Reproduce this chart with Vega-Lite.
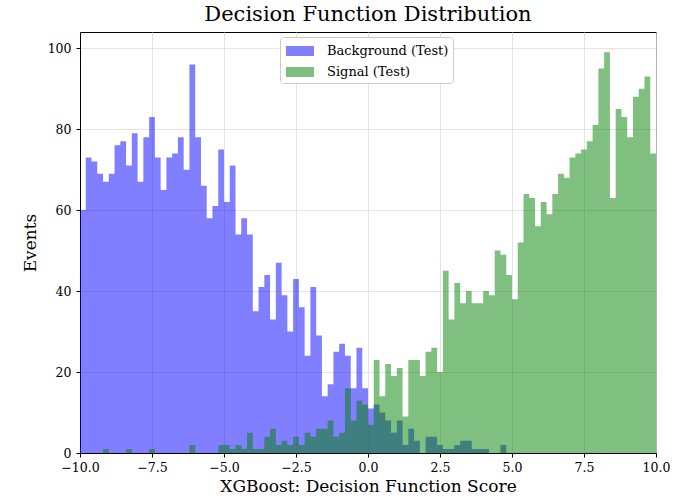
{
  "$schema": "https://vega.github.io/schema/vega-lite/v6.json",
  "width": 576,
  "height": 421,
  "autosize": "none",
  "padding": {"left": 80, "top": 32, "right": 29, "bottom": 50},
  "background": "white",
  "title": {"text": "Decision Function Distribution", "fontSize": 21, "font": "DejaVu Serif", "fontWeight": "normal", "color": "black", "offset": 7},
  "config": {
    "view": {"stroke": "black", "strokeWidth": 1},
    "font": "DejaVu Serif",
    "axis": {
      "domainColor": "black", "tickColor": "black", "tickSize": 4, "labelColor": "black", "titleColor": "black",
      "labelFont": "DejaVu Serif", "titleFont": "DejaVu Serif", "labelFontSize": 12.5, "titleFontSize": 17, "titleFontWeight": "normal",
      "grid": true, "gridColor": "#dddddd", "gridOpacity": 0.8, "labelFlush": false
    }
  },
  "data": {"values": [
    {"series": "Background (Test)", "score_lo": -10, "score_hi": -9.8, "events": 60},
    {"series": "Background (Test)", "score_lo": -9.8, "score_hi": -9.6, "events": 73},
    {"series": "Background (Test)", "score_lo": -9.6, "score_hi": -9.4, "events": 72},
    {"series": "Background (Test)", "score_lo": -9.4, "score_hi": -9.2, "events": 69},
    {"series": "Background (Test)", "score_lo": -9.2, "score_hi": -9, "events": 67},
    {"series": "Background (Test)", "score_lo": -9, "score_hi": -8.8, "events": 69},
    {"series": "Background (Test)", "score_lo": -8.8, "score_hi": -8.6, "events": 76},
    {"series": "Background (Test)", "score_lo": -8.6, "score_hi": -8.4, "events": 77},
    {"series": "Background (Test)", "score_lo": -8.4, "score_hi": -8.2, "events": 71},
    {"series": "Background (Test)", "score_lo": -8.2, "score_hi": -8, "events": 79},
    {"series": "Background (Test)", "score_lo": -8, "score_hi": -7.8, "events": 67},
    {"series": "Background (Test)", "score_lo": -7.8, "score_hi": -7.6, "events": 78},
    {"series": "Background (Test)", "score_lo": -7.6, "score_hi": -7.4, "events": 83},
    {"series": "Background (Test)", "score_lo": -7.4, "score_hi": -7.2, "events": 73},
    {"series": "Background (Test)", "score_lo": -7.2, "score_hi": -7, "events": 65},
    {"series": "Background (Test)", "score_lo": -7, "score_hi": -6.8, "events": 73},
    {"series": "Background (Test)", "score_lo": -6.8, "score_hi": -6.6, "events": 74},
    {"series": "Background (Test)", "score_lo": -6.6, "score_hi": -6.4, "events": 78},
    {"series": "Background (Test)", "score_lo": -6.4, "score_hi": -6.2, "events": 70},
    {"series": "Background (Test)", "score_lo": -6.2, "score_hi": -6, "events": 96},
    {"series": "Background (Test)", "score_lo": -6, "score_hi": -5.8, "events": 78},
    {"series": "Background (Test)", "score_lo": -5.8, "score_hi": -5.6, "events": 66},
    {"series": "Background (Test)", "score_lo": -5.6, "score_hi": -5.4, "events": 58},
    {"series": "Background (Test)", "score_lo": -5.4, "score_hi": -5.2, "events": 61},
    {"series": "Background (Test)", "score_lo": -5.2, "score_hi": -5, "events": 75},
    {"series": "Background (Test)", "score_lo": -5, "score_hi": -4.8, "events": 62},
    {"series": "Background (Test)", "score_lo": -4.8, "score_hi": -4.6, "events": 71},
    {"series": "Background (Test)", "score_lo": -4.6, "score_hi": -4.4, "events": 54},
    {"series": "Background (Test)", "score_lo": -4.4, "score_hi": -4.2, "events": 58},
    {"series": "Background (Test)", "score_lo": -4.2, "score_hi": -4, "events": 54},
    {"series": "Background (Test)", "score_lo": -4, "score_hi": -3.8, "events": 35},
    {"series": "Background (Test)", "score_lo": -3.8, "score_hi": -3.6, "events": 41},
    {"series": "Background (Test)", "score_lo": -3.6, "score_hi": -3.4, "events": 44},
    {"series": "Background (Test)", "score_lo": -3.4, "score_hi": -3.2, "events": 33},
    {"series": "Background (Test)", "score_lo": -3.2, "score_hi": -3, "events": 47},
    {"series": "Background (Test)", "score_lo": -3, "score_hi": -2.8, "events": 39},
    {"series": "Background (Test)", "score_lo": -2.8, "score_hi": -2.6, "events": 30},
    {"series": "Background (Test)", "score_lo": -2.6, "score_hi": -2.4, "events": 43},
    {"series": "Background (Test)", "score_lo": -2.4, "score_hi": -2.2, "events": 36},
    {"series": "Background (Test)", "score_lo": -2.2, "score_hi": -2, "events": 24},
    {"series": "Background (Test)", "score_lo": -2, "score_hi": -1.8, "events": 41},
    {"series": "Background (Test)", "score_lo": -1.8, "score_hi": -1.6, "events": 29},
    {"series": "Background (Test)", "score_lo": -1.6, "score_hi": -1.4, "events": 14},
    {"series": "Background (Test)", "score_lo": -1.4, "score_hi": -1.2, "events": 17},
    {"series": "Background (Test)", "score_lo": -1.2, "score_hi": -1, "events": 25},
    {"series": "Background (Test)", "score_lo": -1, "score_hi": -0.8, "events": 27},
    {"series": "Background (Test)", "score_lo": -0.8, "score_hi": -0.6, "events": 24},
    {"series": "Background (Test)", "score_lo": -0.6, "score_hi": -0.4, "events": 16},
    {"series": "Background (Test)", "score_lo": -0.4, "score_hi": -0.2, "events": 26},
    {"series": "Background (Test)", "score_lo": -0.2, "score_hi": 0, "events": 16},
    {"series": "Background (Test)", "score_lo": 0, "score_hi": 0.2, "events": 11},
    {"series": "Background (Test)", "score_lo": 0.2, "score_hi": 0.4, "events": 12},
    {"series": "Background (Test)", "score_lo": 0.4, "score_hi": 0.6, "events": 10},
    {"series": "Background (Test)", "score_lo": 0.6, "score_hi": 0.8, "events": 8},
    {"series": "Background (Test)", "score_lo": 0.8, "score_hi": 1, "events": 5},
    {"series": "Background (Test)", "score_lo": 1, "score_hi": 1.2, "events": 8},
    {"series": "Background (Test)", "score_lo": 1.2, "score_hi": 1.4, "events": 2},
    {"series": "Background (Test)", "score_lo": 1.4, "score_hi": 1.6, "events": 6},
    {"series": "Background (Test)", "score_lo": 1.6, "score_hi": 1.8, "events": 3},
    {"series": "Background (Test)", "score_lo": 1.8, "score_hi": 2, "events": 0},
    {"series": "Background (Test)", "score_lo": 2, "score_hi": 2.2, "events": 4},
    {"series": "Background (Test)", "score_lo": 2.2, "score_hi": 2.4, "events": 4},
    {"series": "Background (Test)", "score_lo": 2.4, "score_hi": 2.6, "events": 2},
    {"series": "Background (Test)", "score_lo": 2.6, "score_hi": 2.8, "events": 1},
    {"series": "Background (Test)", "score_lo": 2.8, "score_hi": 3, "events": 1},
    {"series": "Background (Test)", "score_lo": 3, "score_hi": 3.2, "events": 2},
    {"series": "Background (Test)", "score_lo": 3.2, "score_hi": 3.4, "events": 3},
    {"series": "Background (Test)", "score_lo": 3.4, "score_hi": 3.6, "events": 3},
    {"series": "Background (Test)", "score_lo": 3.6, "score_hi": 3.8, "events": 1},
    {"series": "Background (Test)", "score_lo": 3.8, "score_hi": 4, "events": 1},
    {"series": "Background (Test)", "score_lo": 4, "score_hi": 4.2, "events": 1},
    {"series": "Background (Test)", "score_lo": 4.2, "score_hi": 4.4, "events": 0},
    {"series": "Background (Test)", "score_lo": 4.4, "score_hi": 4.6, "events": 0},
    {"series": "Background (Test)", "score_lo": 4.6, "score_hi": 4.8, "events": 2},
    {"series": "Signal (Test)", "score_lo": -10, "score_hi": -9.8, "events": 0},
    {"series": "Signal (Test)", "score_lo": -9.8, "score_hi": -9.6, "events": 0},
    {"series": "Signal (Test)", "score_lo": -9.6, "score_hi": -9.4, "events": 0},
    {"series": "Signal (Test)", "score_lo": -9.4, "score_hi": -9.2, "events": 0},
    {"series": "Signal (Test)", "score_lo": -9.2, "score_hi": -9, "events": 1},
    {"series": "Signal (Test)", "score_lo": -9, "score_hi": -8.8, "events": 0},
    {"series": "Signal (Test)", "score_lo": -8.8, "score_hi": -8.6, "events": 0},
    {"series": "Signal (Test)", "score_lo": -8.6, "score_hi": -8.4, "events": 0},
    {"series": "Signal (Test)", "score_lo": -8.4, "score_hi": -8.2, "events": 1},
    {"series": "Signal (Test)", "score_lo": -8.2, "score_hi": -8, "events": 0},
    {"series": "Signal (Test)", "score_lo": -8, "score_hi": -7.8, "events": 0},
    {"series": "Signal (Test)", "score_lo": -7.8, "score_hi": -7.6, "events": 0},
    {"series": "Signal (Test)", "score_lo": -7.6, "score_hi": -7.4, "events": 1},
    {"series": "Signal (Test)", "score_lo": -7.4, "score_hi": -7.2, "events": 0},
    {"series": "Signal (Test)", "score_lo": -7.2, "score_hi": -7, "events": 0},
    {"series": "Signal (Test)", "score_lo": -7, "score_hi": -6.8, "events": 0},
    {"series": "Signal (Test)", "score_lo": -6.8, "score_hi": -6.6, "events": 0},
    {"series": "Signal (Test)", "score_lo": -6.6, "score_hi": -6.4, "events": 0},
    {"series": "Signal (Test)", "score_lo": -6.4, "score_hi": -6.2, "events": 0},
    {"series": "Signal (Test)", "score_lo": -6.2, "score_hi": -6, "events": 2},
    {"series": "Signal (Test)", "score_lo": -6, "score_hi": -5.8, "events": 0},
    {"series": "Signal (Test)", "score_lo": -5.8, "score_hi": -5.6, "events": 0},
    {"series": "Signal (Test)", "score_lo": -5.6, "score_hi": -5.4, "events": 0},
    {"series": "Signal (Test)", "score_lo": -5.4, "score_hi": -5.2, "events": 0},
    {"series": "Signal (Test)", "score_lo": -5.2, "score_hi": -5, "events": 2},
    {"series": "Signal (Test)", "score_lo": -5, "score_hi": -4.8, "events": 2},
    {"series": "Signal (Test)", "score_lo": -4.8, "score_hi": -4.6, "events": 1},
    {"series": "Signal (Test)", "score_lo": -4.6, "score_hi": -4.4, "events": 2},
    {"series": "Signal (Test)", "score_lo": -4.4, "score_hi": -4.2, "events": 1},
    {"series": "Signal (Test)", "score_lo": -4.2, "score_hi": -4, "events": 5},
    {"series": "Signal (Test)", "score_lo": -4, "score_hi": -3.8, "events": 1},
    {"series": "Signal (Test)", "score_lo": -3.8, "score_hi": -3.6, "events": 1},
    {"series": "Signal (Test)", "score_lo": -3.6, "score_hi": -3.4, "events": 4},
    {"series": "Signal (Test)", "score_lo": -3.4, "score_hi": -3.2, "events": 6},
    {"series": "Signal (Test)", "score_lo": -3.2, "score_hi": -3, "events": 2},
    {"series": "Signal (Test)", "score_lo": -3, "score_hi": -2.8, "events": 3},
    {"series": "Signal (Test)", "score_lo": -2.8, "score_hi": -2.6, "events": 2},
    {"series": "Signal (Test)", "score_lo": -2.6, "score_hi": -2.4, "events": 4},
    {"series": "Signal (Test)", "score_lo": -2.4, "score_hi": -2.2, "events": 2},
    {"series": "Signal (Test)", "score_lo": -2.2, "score_hi": -2, "events": 5},
    {"series": "Signal (Test)", "score_lo": -2, "score_hi": -1.8, "events": 4},
    {"series": "Signal (Test)", "score_lo": -1.8, "score_hi": -1.6, "events": 6},
    {"series": "Signal (Test)", "score_lo": -1.6, "score_hi": -1.4, "events": 6},
    {"series": "Signal (Test)", "score_lo": -1.4, "score_hi": -1.2, "events": 8},
    {"series": "Signal (Test)", "score_lo": -1.2, "score_hi": -1, "events": 4},
    {"series": "Signal (Test)", "score_lo": -1, "score_hi": -0.8, "events": 5},
    {"series": "Signal (Test)", "score_lo": -0.8, "score_hi": -0.6, "events": 16},
    {"series": "Signal (Test)", "score_lo": -0.6, "score_hi": -0.4, "events": 8},
    {"series": "Signal (Test)", "score_lo": -0.4, "score_hi": -0.2, "events": 13},
    {"series": "Signal (Test)", "score_lo": -0.2, "score_hi": 0, "events": 12},
    {"series": "Signal (Test)", "score_lo": 0, "score_hi": 0.2, "events": 7},
    {"series": "Signal (Test)", "score_lo": 0.2, "score_hi": 0.4, "events": 23},
    {"series": "Signal (Test)", "score_lo": 0.4, "score_hi": 0.6, "events": 14},
    {"series": "Signal (Test)", "score_lo": 0.6, "score_hi": 0.8, "events": 22},
    {"series": "Signal (Test)", "score_lo": 0.8, "score_hi": 1, "events": 19},
    {"series": "Signal (Test)", "score_lo": 1, "score_hi": 1.2, "events": 21},
    {"series": "Signal (Test)", "score_lo": 1.2, "score_hi": 1.4, "events": 9},
    {"series": "Signal (Test)", "score_lo": 1.4, "score_hi": 1.6, "events": 23},
    {"series": "Signal (Test)", "score_lo": 1.6, "score_hi": 1.8, "events": 23},
    {"series": "Signal (Test)", "score_lo": 1.8, "score_hi": 2, "events": 19},
    {"series": "Signal (Test)", "score_lo": 2, "score_hi": 2.2, "events": 25},
    {"series": "Signal (Test)", "score_lo": 2.2, "score_hi": 2.4, "events": 26},
    {"series": "Signal (Test)", "score_lo": 2.4, "score_hi": 2.6, "events": 20},
    {"series": "Signal (Test)", "score_lo": 2.6, "score_hi": 2.8, "events": 45},
    {"series": "Signal (Test)", "score_lo": 2.8, "score_hi": 3, "events": 33},
    {"series": "Signal (Test)", "score_lo": 3, "score_hi": 3.2, "events": 42},
    {"series": "Signal (Test)", "score_lo": 3.2, "score_hi": 3.4, "events": 37},
    {"series": "Signal (Test)", "score_lo": 3.4, "score_hi": 3.6, "events": 40},
    {"series": "Signal (Test)", "score_lo": 3.6, "score_hi": 3.8, "events": 37},
    {"series": "Signal (Test)", "score_lo": 3.8, "score_hi": 4, "events": 37},
    {"series": "Signal (Test)", "score_lo": 4, "score_hi": 4.2, "events": 40},
    {"series": "Signal (Test)", "score_lo": 4.2, "score_hi": 4.4, "events": 39},
    {"series": "Signal (Test)", "score_lo": 4.4, "score_hi": 4.6, "events": 50},
    {"series": "Signal (Test)", "score_lo": 4.6, "score_hi": 4.8, "events": 49},
    {"series": "Signal (Test)", "score_lo": 4.8, "score_hi": 5, "events": 44},
    {"series": "Signal (Test)", "score_lo": 5, "score_hi": 5.2, "events": 38},
    {"series": "Signal (Test)", "score_lo": 5.2, "score_hi": 5.4, "events": 52},
    {"series": "Signal (Test)", "score_lo": 5.4, "score_hi": 5.6, "events": 64},
    {"series": "Signal (Test)", "score_lo": 5.6, "score_hi": 5.8, "events": 63},
    {"series": "Signal (Test)", "score_lo": 5.8, "score_hi": 6, "events": 56},
    {"series": "Signal (Test)", "score_lo": 6, "score_hi": 6.2, "events": 62},
    {"series": "Signal (Test)", "score_lo": 6.2, "score_hi": 6.4, "events": 59},
    {"series": "Signal (Test)", "score_lo": 6.4, "score_hi": 6.6, "events": 64},
    {"series": "Signal (Test)", "score_lo": 6.6, "score_hi": 6.8, "events": 69},
    {"series": "Signal (Test)", "score_lo": 6.8, "score_hi": 7, "events": 68},
    {"series": "Signal (Test)", "score_lo": 7, "score_hi": 7.2, "events": 73},
    {"series": "Signal (Test)", "score_lo": 7.2, "score_hi": 7.4, "events": 74},
    {"series": "Signal (Test)", "score_lo": 7.4, "score_hi": 7.6, "events": 75},
    {"series": "Signal (Test)", "score_lo": 7.6, "score_hi": 7.8, "events": 77},
    {"series": "Signal (Test)", "score_lo": 7.8, "score_hi": 8, "events": 81},
    {"series": "Signal (Test)", "score_lo": 8, "score_hi": 8.2, "events": 95},
    {"series": "Signal (Test)", "score_lo": 8.2, "score_hi": 8.4, "events": 99},
    {"series": "Signal (Test)", "score_lo": 8.4, "score_hi": 8.6, "events": 63},
    {"series": "Signal (Test)", "score_lo": 8.6, "score_hi": 8.8, "events": 85},
    {"series": "Signal (Test)", "score_lo": 8.8, "score_hi": 9, "events": 83},
    {"series": "Signal (Test)", "score_lo": 9, "score_hi": 9.2, "events": 78},
    {"series": "Signal (Test)", "score_lo": 9.2, "score_hi": 9.4, "events": 88},
    {"series": "Signal (Test)", "score_lo": 9.4, "score_hi": 9.6, "events": 90},
    {"series": "Signal (Test)", "score_lo": 9.6, "score_hi": 9.8, "events": 93},
    {"series": "Signal (Test)", "score_lo": 9.8, "score_hi": 10, "events": 74}
  ]},
  "transform": [{"fold": ["score_lo", "score_hi"], "as": ["edge", "score"]}],
  "mark": {"type": "area", "opacity": 0.5, "interpolate": "linear"},
  "encoding": {
    "x": {"field": "score", "type": "quantitative",
      "scale": {"domain": [-10, 10], "nice": false},
      "axis": {"values": [-10, -7.5, -5, -2.5, 0, 2.5, 5, 7.5, 10], "format": ".1f", "title": "XGBoost: Decision Function Score", "labelPadding": 4, "titlePadding": 5}},
    "y": {"field": "events", "type": "quantitative", "stack": null,
      "scale": {"domain": [0, 104], "nice": false},
      "axis": {"values": [0, 20, 40, 60, 80, 100], "title": "Events", "labelPadding": 5, "titlePadding": 8}},
    "order": [{"field": "score", "type": "quantitative", "sort": "ascending"}, {"field": "edge", "type": "nominal", "sort": "descending"}],
    "color": {"field": "series", "type": "nominal",
      "scale": {"domain": ["Background (Test)", "Signal (Test)"], "range": ["#0000ff", "#008000"]},
      "legend": {"title": null, "orient": "none", "legendX": 200, "legendY": 5, "direction": "vertical",
        "padding": 4, "strokeColor": "#cccccc", "fillColor": "white", "cornerRadius": 3,
        "symbolType": "M-1.4,-0.5H1.4V0.5H-1.4Z", "symbolSize": 400, "symbolOpacity": 0.5, "symbolStrokeWidth": 0,
        "symbolOffset": 6, "labelOffset": 17, "rowPadding": 4,
        "labelFont": "DejaVu Serif", "labelFontSize": 13, "labelColor": "black"}}
  }
}
